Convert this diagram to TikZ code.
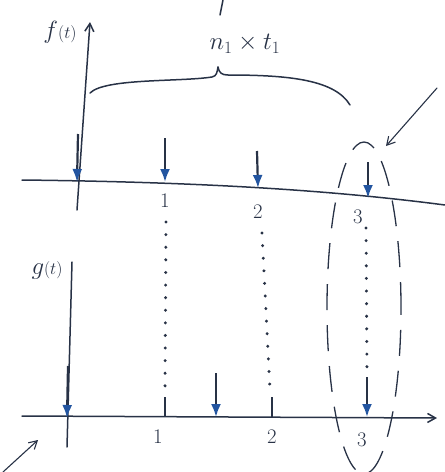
\documentclass[tikz,border=0pt]{standalone}
\usepackage{amsmath}
\usepackage{amssymb}
\usetikzlibrary{arrows.meta}
\definecolor{ink}{RGB}{40,50,70}
\definecolor{pen}{RGB}{35,85,160}

\tikzset{
  line/.style={draw=ink,line width=1.5pt,line cap=round},
  axisarrow/.style={line,-{Straight Barb[length=8pt,width=9pt]}},
  spike/.style={draw=ink,line width=2.2pt,-{Latex[length=13pt,width=10pt,color=pen]}},
  tick/.style={draw=ink,line width=2pt},
  dots/.style={draw=ink,line width=3.2pt,line cap=round,dash pattern=on 0.1pt off 12.5pt},
  ring/.style={draw=ink,line width=1.3pt,dash pattern=on 26pt off 15pt},
  hand/.style={text=ink,font=\fontsize{24}{28}\selectfont},
  digit/.style={text=ink,font=\fontsize{22}{26}\selectfont},
}

\begin{document}
\begin{tikzpicture}[x=1pt,y=-1pt]
\useasboundingbox (0,0) rectangle (445,472);
% upper plot f(t):
\coordinate (fbot) at (77,210);
\coordinate (ftop) at (90,22);
\path[axisarrow] (fbot) -- (ftop);
\node[hand] (flabel) at (60,32) {$f\scriptstyle(t)$};
\path[line] (22,180) .. controls (200,182) and (330,190) .. (445,205);
\path[spike] (78,134) -- (77,182);
\path[spike] (165,138) -- (165,182);
\path[spike] (257,151) -- (258,188);
\path[spike] (368,162) -- (368,198);
\node[digit] (fone) at (165,201) {$1$};
\node[digit] (ftwo) at (258,212) {$2$};
\node[digit] (fthree) at (358,217) {$3$};
% brace and its label:
\path[line] (90,93) .. controls (105,78) and (180,82) .. (212,77) .. controls (217,76) and (217,72) .. (218,67);
\path[line] (218,67) .. controls (219,73) and (222,75) .. (228,75) .. controls (290,75) and (335,80) .. (350,105);
\node[hand,font=\fontsize{26}{30}\selectfont] (nt) at (245,44) {$n_1 \times t_1$};
\path[line] (223,0) -- (220,15);
% pointer to the ring:
\path[axisarrow,line width=1.1pt] (437,88) -- (386,146);
% lower plot g(t):
\coordinate (gbot) at (67,447);
\coordinate (gtop) at (72,262);
\path[line] (gbot) -- (gtop);
\node[hand] (glabel) at (47,270) {$g\scriptstyle(t)$};
\path[axisarrow] (22,416) -- (437,418);
\path[spike] (68,366) -- (67,418);
\path[tick] (165,397) -- (165,417);
\path[tick] (272,397) -- (272,418);
\path[spike] (216,373) -- (216,417);
\path[spike] (367,377) -- (367,417);
\node[digit] (gone) at (158,437) {$1$};
\node[digit] (gtwo) at (272,437) {$2$};
\node[digit] (gthree) at (362,440) {$3$};
% dotted links:
\path[dots] (166,222) -- (165,390);
\path[dots] (262,233) -- (270,390);
\path[dots] (366,228) -- (367,370);
% dashed ring round the 3s:
\path[ring] (364,308) ellipse (37pt and 166pt);
% stray pointer:
\path[axisarrow,line width=1.1pt] (3,472) -- (38,440);
\end{tikzpicture}
\end{document}
